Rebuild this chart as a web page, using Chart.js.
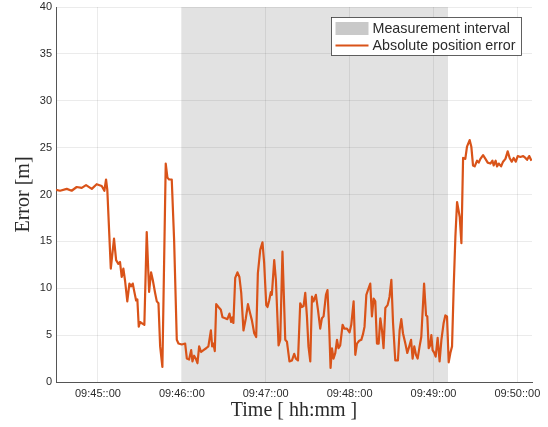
<!DOCTYPE html>
<html>
<head>
<meta charset="utf-8">
<script src="https://cdn.jsdelivr.net/npm/chart.js@4.4.1/dist/chart.umd.min.js"></script>
<style>
  html, body { margin: 0; padding: 0; background: #fff; }
</style>
</head>
<body>
<canvas id="errorChart" width="548" height="427"></canvas>
<script>
// sample times, seconds after 09:44:00
const seconds = [
  30.0, 32.9, 37.7, 41.2, 44.8, 48.4, 51.5, 55.6, 59.1, 62.7,
  64.6, 65.8, 66.7, 69.2, 71.5, 73.0, 74.6, 75.8, 77.0, 78.2,
  79.4, 81.0, 82.5, 83.7, 84.9, 85.8, 87.3, 88.2, 89.2, 90.1,
  92.1, 93.2, 94.9, 96.6, 98.0, 99.2, 100.9, 102.1, 103.3, 104.5,
  106.1, 108.5, 109.7, 110.9, 112.8, 114.5, 116.4, 117.6, 120.0, 122.4,
  123.6, 125.2, 126.7, 127.6, 128.8, 130.0, 131.2, 132.4, 133.8, 135.5,
  137.4, 139.0, 140.8, 141.7, 142.6, 143.6, 144.6, 146.2, 147.9, 149.1,
  151.0, 152.6, 154.1, 155.3, 156.2, 156.9, 158.2, 159.8, 161.2, 162.5,
  164.1, 165.8, 167.3, 168.9, 170.1, 171.8, 173.2, 174.4, 176.1, 177.7,
  178.9, 180.4, 181.3, 182.5, 183.7, 184.4, 186.1, 187.3, 189.2, 190.4,
  192.0, 194.0, 195.2, 197.0, 198.8, 200.4, 201.6, 203.1, 204.7, 205.9,
  207.1, 208.3, 209.5, 210.6, 211.9, 213.1, 214.2, 215.9, 217.4, 219.0,
  220.2, 221.4, 223.1, 224.2, 225.5, 226.4, 227.4, 228.5, 229.8, 231.0,
  232.1, 233.3, 235.0, 236.2, 238.1, 240.0, 241.2, 242.9, 244.1, 245.3,
  246.9, 248.4, 249.6, 250.7, 252.0, 253.6, 254.8, 256.0, 257.2, 258.4,
  259.6, 260.8, 262.0, 263.2, 264.3, 265.6, 267.2, 268.6, 269.9, 271.1,
  272.7, 274.6, 275.8, 277.0, 278.2, 279.9, 281.3, 282.7, 284.0, 285.1,
  286.3, 287.5, 288.7, 290.1, 291.3, 293.3, 294.7, 295.6, 296.6, 297.6,
  298.5, 299.4, 300.6, 301.6, 303.0, 304.4, 305.7, 307.3, 308.5, 309.7,
  310.9, 312.1, 313.3, 314.5, 315.7, 316.9, 318.8, 320.0, 321.2, 322.8,
  324.0, 325.9, 327.1, 328.3, 329.5, 331.2, 332.4, 333.6, 335.5, 337.2,
  338.8, 340.7, 342.2, 343.1, 344.5, 345.5, 346.7, 348.4, 349.8, 351.5,
  353.1, 354.5, 356.0, 357.4, 358.9, 360.3, 362.2, 364.2, 365.8, 367.0,
  368.5, 370.1
];

// absolute position error, metres
const errorM = [
  20.5, 20.4, 20.6, 20.4, 20.8, 20.7, 21.0, 20.6, 21.1, 20.9,
  20.4, 21.6, 20.5, 12.1, 15.3, 13.0, 12.6, 12.8, 11.2, 12.1,
  10.8, 8.6, 10.5, 10.2, 10.5, 9.8, 8.7, 8.8, 5.9, 6.4,
  6.2, 6.1, 16.0, 9.6, 11.7, 10.9, 9.5, 8.6, 8.4, 3.8,
  1.6, 23.3, 21.8, 21.6, 21.6, 15.1, 4.5, 4.1, 4.0, 4.1,
  2.5, 2.4, 3.4, 2.2, 2.8, 2.5, 2.0, 3.8, 3.2, 3.4,
  3.6, 3.8, 5.5, 3.8, 4.1, 3.3, 8.3, 8.0, 7.7, 6.9,
  6.8, 6.7, 7.3, 6.4, 6.9, 6.3, 11.1, 11.7, 11.2, 9.5,
  5.5, 6.8, 8.3, 7.3, 6.6, 5.2, 4.8, 11.6, 14.1, 14.9,
  12.7, 8.2, 8.0, 8.7, 9.6, 9.3, 13.0, 10.9, 3.9, 4.5,
  13.9, 4.5, 4.3, 2.2, 2.3, 3.0, 2.5, 2.3, 8.4, 8.0,
  8.1, 9.5, 7.0, 3.8, 2.2, 9.1, 8.6, 9.3, 7.7, 5.7,
  6.8, 7.0, 9.3, 9.8, 5.5, 1.5, 3.6, 2.5, 3.1, 4.5,
  3.6, 3.9, 6.1, 5.7, 5.7, 5.3, 6.1, 8.6, 2.9, 4.1,
  4.4, 4.5, 5.1, 5.9, 9.3, 10.0, 10.5, 7.0, 8.9, 8.6,
  4.1, 4.1, 6.8, 5.5, 3.6, 7.9, 8.2, 9.1, 10.9, 6.3,
  2.3, 2.3, 5.5, 6.7, 5.2, 4.1, 3.1, 3.8, 4.5, 2.5,
  3.8, 2.9, 2.5, 3.8, 4.8, 10.5, 7.1, 7.0, 3.6, 3.9,
  5.0, 3.4, 3.1, 2.7, 4.7, 2.2, 4.5, 6.3, 7.1, 7.0,
  2.1, 3.1, 3.8, 10.2, 15.5, 19.2, 17.6, 14.8, 23.9, 23.8,
  25.1, 25.8, 25.1, 23.1, 23.0, 23.6, 23.4, 23.8, 24.2, 23.8,
  23.4, 23.3, 23.6, 23.1, 23.6, 23.0, 23.3, 23.0, 23.5, 23.8,
  24.6, 23.9, 23.5, 23.9, 23.5, 24.1, 24.0, 24.1, 23.9, 23.7,
  24.1, 23.6
];

// measurement interval, seconds after 09:44:00
const intervalStart = 120.0;
const intervalEnd = 310.5;

const xTickSeconds = [60, 120, 180, 240, 300, 360];
const xTickLabels = ["09:45::00", "09:46::00", "09:47::00", "09:48::00", "09:49::00", "09:50::00"];
const yTicks = [0, 5, 10, 15, 20, 25, 30, 35, 40];

const seriesLabels = ["Measurement interval", "Absolute position error"];

const ORANGE = "#D95319";
const SHADE = "rgba(0, 0, 0, 0.115)";
const SHADE_KEY = "#c9c9c9";
const TEXT = "#2b2b2b";
const SANS = '"Liberation Sans", Arial, Helvetica, sans-serif';
const SERIF = '"Liberation Serif", "Times New Roman", serif';

const errorPoints = seconds.map((s, i) => ({ x: s, y: errorM[i] }));
const shadePoints = [
  { x: intervalStart, y: 40 },
  { x: intervalEnd, y: 40 },
];

// legend box drawn inside the plot, top right
const boxLegend = {
  id: "boxLegend",
  afterDraw(chart) {
    const { ctx, chartArea } = chart;
    const sets = chart.data.datasets;
    ctx.save();
    ctx.font = "14.3px " + SANS;
    const textW = Math.max(...sets.map((d) => ctx.measureText(d.label).width));
    const rowH = 17;
    const w = 41 + textW + 6;
    const h = 38;
    const left = Math.round(chartArea.right - 10.5 - w) + 0.5;
    const top = Math.round(chartArea.top) + 10.5;
    ctx.fillStyle = "#fff";
    ctx.fillRect(left, top, w, h);
    ctx.strokeStyle = "#3a3a3a";
    ctx.lineWidth = 0.8;
    ctx.strokeRect(left, top, w, h);
    sets.forEach((d, i) => {
      const cy = top + 11 + rowH * i;
      if (d.fill) {
        ctx.fillStyle = SHADE_KEY;
        ctx.fillRect(left + 4, cy - 6.5, 33, 13);
      } else {
        ctx.strokeStyle = d.borderColor;
        ctx.lineWidth = 2;
        ctx.beginPath();
        ctx.moveTo(left + 4, cy);
        ctx.lineTo(left + 37, cy);
        ctx.stroke();
      }
      ctx.fillStyle = TEXT;
      ctx.textAlign = "left";
      ctx.textBaseline = "middle";
      ctx.fillText(d.label, left + 41, cy + 0.5);
    });
    ctx.restore();
  },
};

new Chart(document.getElementById("errorChart"), {
  type: "line",
  data: {
    datasets: [
      {
        label: seriesLabels[0],
        data: shadePoints,
        fill: "origin",
        backgroundColor: SHADE,
        borderWidth: 0,
        pointRadius: 0,
        order: 2,
      },
      {
        label: seriesLabels[1],
        data: errorPoints,
        borderColor: ORANGE,
        borderWidth: 2.2,
        borderJoinStyle: "round",
        fill: false,
        pointRadius: 0,
        tension: 0,
        order: 1,
      },
    ],
  },
  options: {
    responsive: false,
    animation: false,
    layout: { padding: { top: 7, right: 16, left: 0, bottom: 0 } },
    scales: {
      x: {
        type: "linear",
        min: 30,
        max: 370.5,
        afterBuildTicks: (scale) => {
          scale.ticks = xTickSeconds.map((v) => ({ value: v }));
        },
        afterFit: (scale) => {
          scale.height = 45;
          scale.paddingLeft = 0;
          scale.paddingRight = 0;
        },
        ticks: {
          maxRotation: 0,
          autoSkip: false,
          padding: 5,
          color: TEXT,
          font: { family: SANS, size: 11 },
          callback: (value) => xTickLabels[xTickSeconds.indexOf(value)],
        },
        grid: { color: "rgba(0, 0, 0, 0.08)", drawTicks: false },
        border: { color: "#555", width: 1 },
        title: {
          display: true,
          text: "Time [ hh:mm ]",
          color: TEXT,
          font: { family: SERIF, size: 20 },
          padding: { top: 0, bottom: 4 },
        },
      },
      y: {
        type: "linear",
        min: 0,
        max: 40,
        afterBuildTicks: (scale) => {
          scale.ticks = yTicks.map((v) => ({ value: v }));
        },
        afterFit: (scale) => {
          scale.width = 56;
          scale.paddingTop = 0;
          scale.paddingBottom = 0;
        },
        ticks: {
          padding: 4,
          color: TEXT,
          font: { family: SANS, size: 11 },
        },
        grid: { color: "rgba(0, 0, 0, 0.08)", drawTicks: false },
        border: { color: "#555", width: 1 },
        title: {
          display: true,
          text: "Error [m]",
          color: TEXT,
          font: { family: SERIF, size: 20 },
          padding: { top: 12, bottom: 0 },
        },
      },
    },
    plugins: {
      legend: { display: false },
      tooltip: { enabled: false },
    },
  },
  plugins: [boxLegend],
});
</script>
</body>
</html>
